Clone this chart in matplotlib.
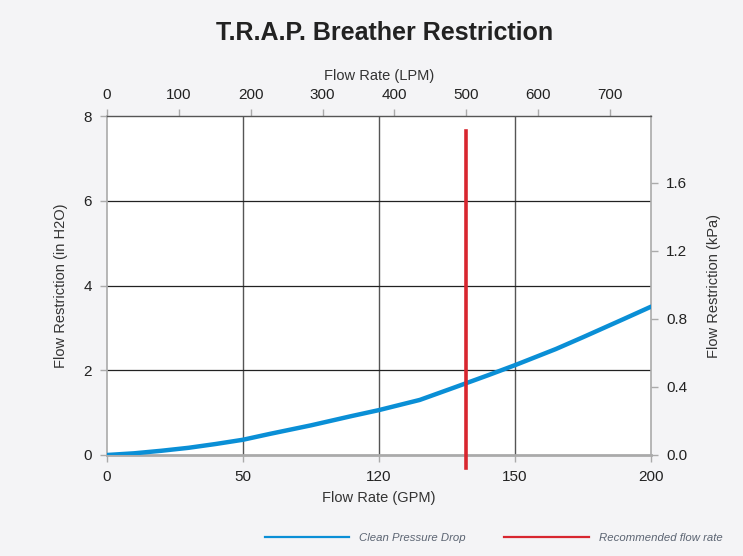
import matplotlib
matplotlib.use("Agg")
import matplotlib.pyplot as plt
from matplotlib.lines import Line2D
import numpy as np

# Data
gpm = [0, 10, 20, 30, 40, 50, 60, 75, 90, 100, 115, 128, 140, 150, 165, 175, 190, 200]
restriction_inh2o = [0, 0.04, 0.10, 0.17, 0.26, 0.36, 0.50, 0.70, 0.92, 1.06, 1.30, 1.60,
                     1.88, 2.12, 2.50, 2.78, 3.21, 3.50]
recommended_lpm = 500
bottom_ticks = [0, 50, 100, 150, 200]
bottom_ticklabels = ["0", "50", "120", "150", "200"]
top_ticks = [0, 100, 200, 300, 400, 500, 600, 700]
left_ticks = [0, 2, 4, 6, 8]
right_ticks = [0.0, 0.4, 0.8, 1.2, 1.6]
red_top = 7.65
red_bottom = -0.3

LPM_PER_GPM = 3.78541
KPA_PER_INH2O = 0.249089

BG = "#f4f4f6"
REG = ["Liberation Sans", "DejaVu Sans"]

fig = plt.figure(figsize=(7.43, 5.56), dpi=100, facecolor=BG)
ax = fig.add_axes([107/743, 1-455/556, (651-107)/743, (455-116)/556])
ax.set_facecolor("white")

ax.set_xlim(0, 200)
ax.set_ylim(0, 8)

# grid
for x in [50, 100, 150]:
    ax.axvline(x, color="#555555", lw=1.0, zorder=1)
for y in [2, 4, 6]:
    ax.axhline(y, color="#222222", lw=0.9, zorder=1)

ax.plot(gpm, restriction_inh2o, color="#0a8fd6", lw=3.2, solid_capstyle="round", zorder=3,
        label="Clean Pressure Drop")
rx = recommended_lpm / LPM_PER_GPM
ax.plot([rx, rx], [red_bottom, red_top], color="#d8262f", lw=2.6, zorder=4, clip_on=False,
        label="Recommended flow rate")

for s in ["left", "right", "bottom"]:
    ax.spines[s].set_color("#aaaaaa")
ax.spines["bottom"].set_linewidth(2.0)
ax.spines["left"].set_linewidth(1.2)
ax.spines["right"].set_linewidth(1.2)
ax.spines["top"].set_color("#555555")
ax.spines["top"].set_linewidth(1.0)

ax.set_xticks(bottom_ticks)
ax.set_xticklabels(bottom_ticklabels)
ax.set_yticks(left_ticks)
ax.tick_params(axis="both", length=5, width=1, color="#aaaaaa", labelsize=11, labelcolor="#222222", pad=6)
for lab in ax.get_xticklabels() + ax.get_yticklabels():
    lab.set_family(REG)
ax.set_xlabel("Flow Rate (GPM)", fontsize=10.5, color="#333333", family=REG, labelpad=5)
ax.set_ylabel("Flow Restriction (in H2O)", fontsize=10.5, color="#333333", family=REG, labelpad=11)

top = ax.secondary_xaxis("top", functions=(lambda g: g * LPM_PER_GPM, lambda l: l / LPM_PER_GPM))
top.set_xticks(top_ticks)
top.spines["top"].set_visible(False)
top.tick_params(length=5, width=1, color="#aaaaaa", labelsize=11, labelcolor="#222222", pad=5)
for lab in top.get_xticklabels():
    lab.set_family(REG)
top.set_xlabel("Flow Rate (LPM)", fontsize=10.5, color="#333333", family=REG, labelpad=6)

right = ax.secondary_yaxis("right", functions=(lambda v: v * KPA_PER_INH2O, lambda k: k / KPA_PER_INH2O))
right.set_yticks(right_ticks)
right.set_yticklabels([f"{v:.1f}" for v in right_ticks])
right.spines["right"].set_visible(False)
right.tick_params(length=5, width=1, color="#aaaaaa", labelsize=11, labelcolor="#222222", pad=6)
for lab in right.get_yticklabels():
    lab.set_family(REG)
right.set_ylabel("Flow Restriction (kPa)", fontsize=10.5, color="#333333", family=REG, labelpad=14)

fig.text(385/743, 1-33/556, "T.R.A.P. Breather Restriction", ha="center", va="center",
         fontsize=18, fontweight="bold", color="#222222", family=REG)

handles = [Line2D([], [], color="#0a8fd6", lw=1.6), Line2D([], [], color="#d8262f", lw=1.6)]
leg = fig.legend(handles, ["Clean Pressure Drop", "Recommended flow rate"], loc="center right",
                 bbox_to_anchor=(733/743, 1-538/556), ncol=2, frameon=False,
                 handlelength=7.4, handletextpad=0.9, columnspacing=3.4,
                 prop={"family": REG, "style": "italic", "size": 8.2})
for t in leg.get_texts():
    t.set_color("#5b6472")

fig.savefig("out.png", dpi=100, facecolor=BG)
